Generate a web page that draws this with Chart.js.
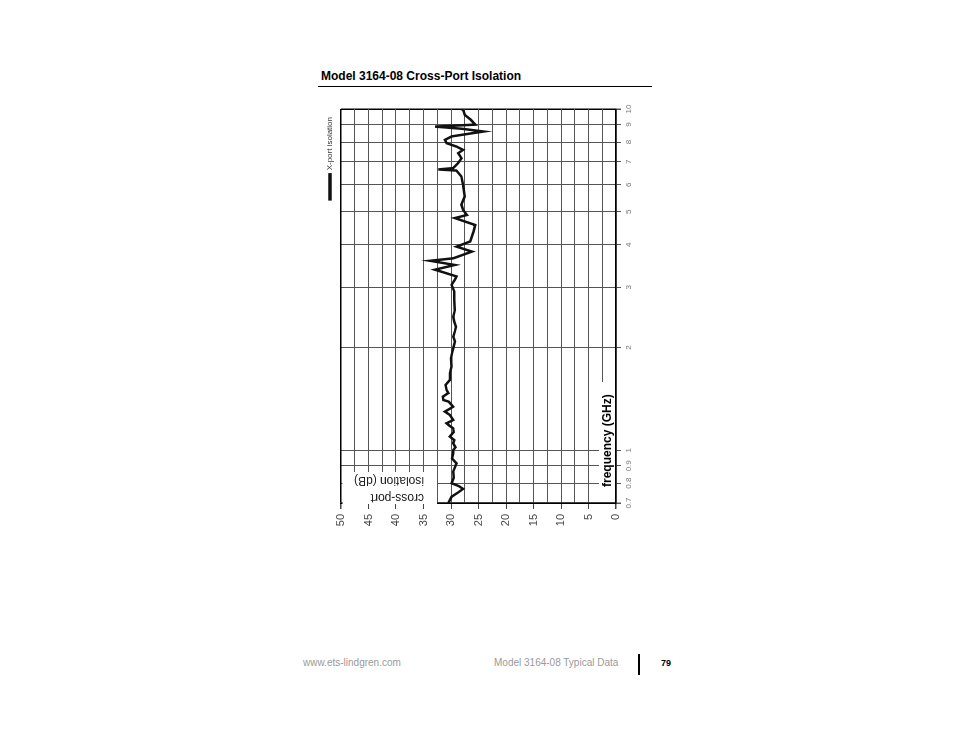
<!DOCTYPE html>
<html>
<head>
<meta charset="utf-8">
<script src="https://cdn.jsdelivr.net/npm/chart.js@4"></script>
<style>
  body { margin: 0; width: 954px; height: 738px; background: #fff; position: relative; font-family: "Liberation Sans", Arial, sans-serif; }
  #head { position: absolute; left: 321px; top: 69px; font-size: 12px; font-weight: bold; color: #000; }
  #rule { position: absolute; left: 318px; top: 86px; width: 334px; height: 1px; background: #000; }
  #wrap { position: absolute; left: 0; top: 0; width: 445px; height: 330px;
          transform-origin: 0 0; transform: translate(318px, 540px) rotate(-90deg); }
  .foot { position: absolute; top: 657px; font-size: 10px; color: #9a9a9a; }
  #bar { position: absolute; left: 638px; top: 654px; width: 1.5px; height: 21px; background: #000; }
</style>
</head>
<body>
<div id="head">Model 3164-08 Cross-Port Isolation</div>
<div id="rule"></div>
<div id="wrap"><canvas id="diagram" width="445" height="330"></canvas></div>
<div class="foot" style="left:303px">www.ets-lindgren.com</div>
<div class="foot" style="left:494px">Model 3164-08 Typical Data</div>
<div id="bar"></div>
<div class="foot" style="left:661px;color:#000;font-weight:bold;font-size:9px;top:658px">79</div>
<script>
// frequency (GHz) and cross-port isolation (dB)
const freqGHz = [0.70, 0.73, 0.75, 0.77, 0.785, 0.80, 0.83, 0.865, 0.89, 0.915, 0.945, 0.979, 1.00, 1.02, 1.048, 1.07,
    1.096, 1.13, 1.159, 1.18, 1.199, 1.226, 1.268, 1.297, 1.32, 1.341, 1.387, 1.403, 1.435, 1.47, 1.50, 1.553,
    1.607, 1.681, 1.757, 1.859, 1.93, 1.99, 2.083, 2.15, 2.23, 2.30, 2.38, 2.46, 2.574, 2.76, 2.916, 3.05,
    3.16, 3.23, 3.38, 3.49, 3.59, 3.65, 3.82, 3.95, 4.09, 4.37, 4.57, 4.79, 4.89, 5.06, 5.24, 5.54,
    6.0, 6.34, 6.60, 6.65, 6.71, 6.94, 7.17, 7.42, 7.59, 7.76, 7.94, 8.12, 8.31, 8.45, 8.59, 8.75,
    8.88, 9.0, 9.3, 9.61, 9.94, 10.0];
const isolationDb = [30.5, 29.9, 28.8, 27.8, 28.6, 29.9, 29.5, 29.6, 29.3, 29.0, 29.8, 29.6, 29.6, 29.2, 29.6, 29.4,
    30.2, 29.5, 29.6, 30.3, 30.8, 29.6, 30.2, 31.1, 30.3, 29.6, 30.4, 31.4, 31.5, 30.5, 30.8, 31.0,
    30.2, 30.2, 29.9, 30.0, 29.8, 29.6, 29.3, 29.6, 29.3, 29.1, 29.4, 29.6, 29.3, 29.4, 29.4, 29.9,
    29.3, 29.0, 32.9, 29.3, 33.8, 29.6, 26.2, 29.0, 26.5, 25.9, 25.6, 29.3, 27.1, 27.8, 28.1, 27.5,
    27.8, 28.1, 29.0, 32.3, 29.6, 28.7, 28.1, 28.7, 27.8, 29.0, 30.8, 31.1, 29.9, 27.0, 24.1, 28.0,
    32.9, 25.6, 26.4, 27.5, 27.8, 28.1];
const freqTicks = [0.7, 0.8, 0.9, 1, 2, 3, 4, 5, 6, 7, 8, 9, 10];
const dbStep = 2.5;

Chart.defaults.font.family = '"Liberation Sans", Arial, sans-serif';

// axis titles sit inside the plot on white patches
const insideLabels = {
    id: 'insideLabels',
    afterDraw(chart) {
        const {ctx, chartArea: a} = chart;
        ctx.save();
        ctx.fillStyle = '#fff';
        ctx.fillRect(a.left - 1, a.top + 1.5, 32, 94.5);
        ctx.fillRect(a.left + 1, a.bottom - 17, 120, 16);
        ctx.fillStyle = '#222';
        ctx.font = '12px "Liberation Sans", Arial, sans-serif';
        ctx.textAlign = 'left';
        ctx.textBaseline = 'middle';
        [['cross-port', 6], ['isolation (dB)', 23]].forEach(([t, dx]) => {
            ctx.save();
            ctx.translate(a.left + dx, a.top + 83);
            ctx.rotate(-Math.PI / 2);
            ctx.fillText(t, 0, 0);
            ctx.restore();
        });
        ctx.fillStyle = '#000';
        ctx.font = 'bold 12px "Liberation Sans", Arial, sans-serif';
        ctx.fillText('frequency (GHz)', a.left + 16, a.bottom - 8);
        ctx.restore();
    }
};

const edge = (ctx, lo, hi) => (ctx.tick && (ctx.tick.value === lo || ctx.tick.value === hi));

new Chart(document.getElementById('diagram'), {
    type: 'line',
    data: {
        datasets: [{
            label: 'X-port isolation',
            data: freqGHz.map((f, i) => ({x: f, y: isolationDb[i]})),
            borderColor: '#111',
            backgroundColor: '#111',
            borderWidth: 2.5,
            pointRadius: 0,
            tension: 0
        }]
    },
    options: {
        responsive: false,
        animation: false,
        layout: {padding: {right: 14, top: 0, left: 0, bottom: 0}},
        plugins: {
            tooltip: {enabled: false},
            legend: {
                position: 'top',
                align: 'end',
                maxHeight: 23,
                labels: {boxWidth: 25, boxHeight: 1, padding: 8, color: '#333', font: {size: 8}}
            }
        },
        scales: {
            x: {
                type: 'logarithmic',
                min: 0.7,
                max: 10,
                afterBuildTicks: s => { s.ticks = freqTicks.map(v => ({value: v})); },
                afterFit: s => { s.height = 32; },
                ticks: {
                    autoSkip: false, maxRotation: 0, padding: 3,
                    color: '#777', font: {size: 8},
                    callback: v => String(v)
                },
                grid: {
                    color: c => edge(c, 0.7, 10) ? '#000' : '#555',
                    lineWidth: c => edge(c, 0.7, 10) ? 1.5 : 1,
                    tickLength: 5,
                    tickColor: '#555'
                },
                border: {color: '#000', width: 1.5}
            },
            y: {
                min: 0,
                max: 50,
                afterFit: s => { s.width = 37; },
                ticks: {
                    stepSize: dbStep, autoSkip: false, padding: 5,
                    color: '#444', font: {size: 11},
                    callback: v => (v % 5 === 0 ? v : '')
                },
                grid: {
                    color: c => edge(c, 0, 50) ? '#000' : '#555',
                    lineWidth: c => edge(c, 0, 50) ? 1.5 : 1,
                    tickLength: 6,
                    tickColor: c => (c.tick && c.tick.value % 5 === 0 ? '#444' : 'rgba(0,0,0,0)')
                },
                border: {color: '#000', width: 1.5}
            }
        }
    },
    plugins: [insideLabels]
});
</script>
</body>
</html>
